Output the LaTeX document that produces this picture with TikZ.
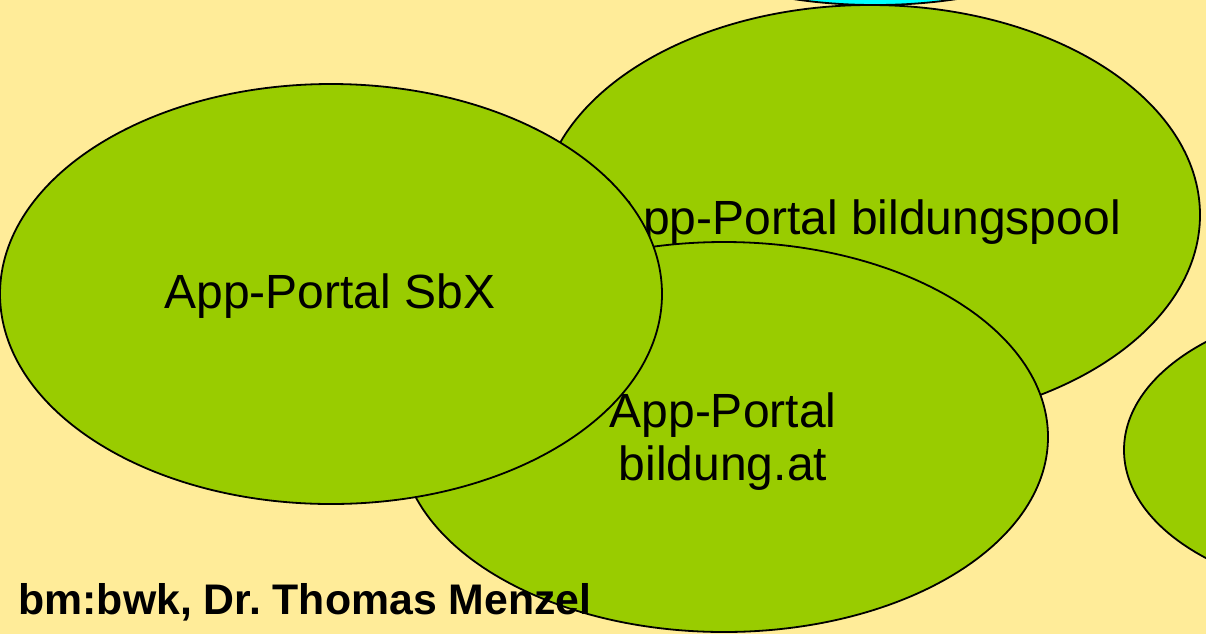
\documentclass[tikz,border=0pt]{standalone}
\usepackage{fontspec}
\setmainfont{Liberation Sans}
\usetikzlibrary{shapes.geometric}
\definecolor{bgyellow}{RGB}{255,236,153}
\definecolor{leaf}{RGB}{153,204,0}
\definecolor{aqua}{RGB}{0,255,255}
\tikzset{
  blob/.style={ellipse, draw=black, line width=0.9pt, fill=leaf, inner sep=0pt, outer sep=0pt},
  lbl/.style={font=\fontsize{24}{28}\selectfont, text=black, inner sep=0pt},
  credit/.style={font=\bfseries\fontsize{21.4}{25}\selectfont, text=black, inner sep=0pt}
}
\frenchspacing
\begin{document}
\begin{tikzpicture}[x=0.5pt,y=-0.5pt]
\fill[bgyellow] (0,0) rectangle (1206,634);
\useasboundingbox (0,0) rectangle (1206,634);
\node[blob, fill=aqua, minimum width=240pt, minimum height=100pt] (top) at (875,-95) {};
\node[blob, minimum width=330pt, minimum height=210pt] (pool) at (870,215) {};
\node[lbl, anchor=base] (pooltxt) at (866,234) {App-Portal bildungspool};
\node[blob, minimum width=324pt, minimum height=195pt] (at) at (724,437) {};
\node[blob, minimum width=331pt, minimum height=210pt] (sbx) at (331,294) {};
\node[lbl, anchor=base] (sbxtxt) at (330,308) {App-Portal SbX};
\node[lbl, anchor=base] (attxt1) at (723,427) {App-Portal};
\node[lbl, anchor=base] (attxt2) at (723,480) {bildung.at};
\node[blob, minimum width=246pt, minimum height=145pt] (right) at (1370,450) {};
\node[credit, anchor=base west] (cred) at (18,614) {bm:bwk, Dr.\ Thomas Menzel};
\end{tikzpicture}
\end{document}
